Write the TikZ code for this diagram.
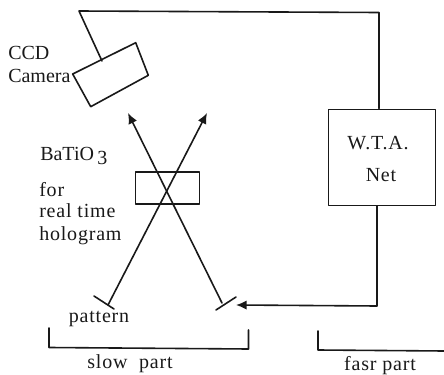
\documentclass[tikz,border=0pt]{standalone}
\usepackage{fontspec}
\setmainfont{Liberation Serif}
\newfontfamily\spaced[LetterSpace=4]{Liberation Serif}
\usetikzlibrary{arrows.meta}
\tikzset{
  line/.style={draw=black!90,line width=1.2pt,line cap=round,line join=round},
  arrowline/.style={line,-{Latex[length=8pt,width=7pt]}},
  lab/.style={inner sep=0pt,font=\fontsize{15pt}{17pt}\selectfont,text=black!90},
  slab/.style={inner sep=0pt,font=\fontsize{15pt}{17pt}\spaced,text=black!90},
  box/.style={line,rectangle,inner sep=0pt,anchor=north west}
}
\begin{document}
\begin{tikzpicture}[x=0.75pt,y=-0.75pt]
\useasboundingbox (0,0) rectangle (444,375);
% camera
\coordinate (c1) at (72.7,74);
\coordinate (c2) at (135.7,42.7);
\coordinate (c3) at (148.3,75.3);
\coordinate (c4) at (90.7,106.7);
\draw[line] (c1) -- (c2) -- (c3) -- (c4) -- cycle;
\coordinate (camtop) at (102,61);
\coordinate (w1) at (79,11);
\coordinate (w2) at (379,12.5);
% WTA
\node[box,minimum width=80.5pt,minimum height=72pt] (wta) at (327.5,108.5) {};
\node[slab] (wtal) at (378,143) {W.T.A.};
\node[slab] (netl) at (381,175) {Net};
\draw[line] (camtop) -- (w1) -- (w2) -- (w2 |- wta.north);
% crystal
\node[box,minimum width=48pt,minimum height=24pt] (cry) at (134.5,171) {};
% beams
\coordinate (b1s) at (222,303);
\coordinate (b1e) at (128,113);
\coordinate (b2s) at (108,305);
\coordinate (b2e) at (207,113);
\draw[arrowline] (b1s) -- (b1e);
\draw[arrowline] (b2s) -- (b2e);
% masks
\coordinate (m1a) at (94,296);
\coordinate (m1b) at (114,309);
\coordinate (m2a) at (216,310);
\coordinate (m2b) at (236,297);
\draw[line] (m1a) -- (m1b);
\draw[line] (m2a) -- (m2b);
% feedback
\coordinate (fb1) at (377,306);
\coordinate (fb2) at (236,305);
\draw[arrowline] (wta.south -| fb1) -- (fb1) -- (fb2);
% brackets
\coordinate (s1) at (49,328);
\coordinate (s2) at (49,347.5);
\coordinate (s3) at (248.5,349);
\coordinate (s4) at (248.5,330);
\draw[line] (s1) -- (s2) -- (s3) -- (s4);
\coordinate (f1) at (318,331);
\coordinate (f2) at (318,350);
\coordinate (f3) at (444,351);
\draw[line] (f1) -- (f2) -- (f3);
% labels
\node[lab,anchor=base west] (ccd) at (8,59) {CCD};
\node[lab,anchor=base west] (cam) at (8,82) {Camera};
\node[lab,anchor=base west] (bat) at (40,160) {BaTiO\,\raisebox{-3pt}{3}};
\node[slab,anchor=base west] (for) at (39,196) {for};
\node[slab,anchor=base west] (rea) at (39,217) {real time};
\node[slab,anchor=base west] (hol) at (39,240) {hologram};
\node[slab] (pat) at (99,319) {pattern};
\node[slab] (slow) at (130,364) {slow\ \ part};
\node[slab] (fast) at (380,366) {fasr\ part};
\end{tikzpicture}
\end{document}
